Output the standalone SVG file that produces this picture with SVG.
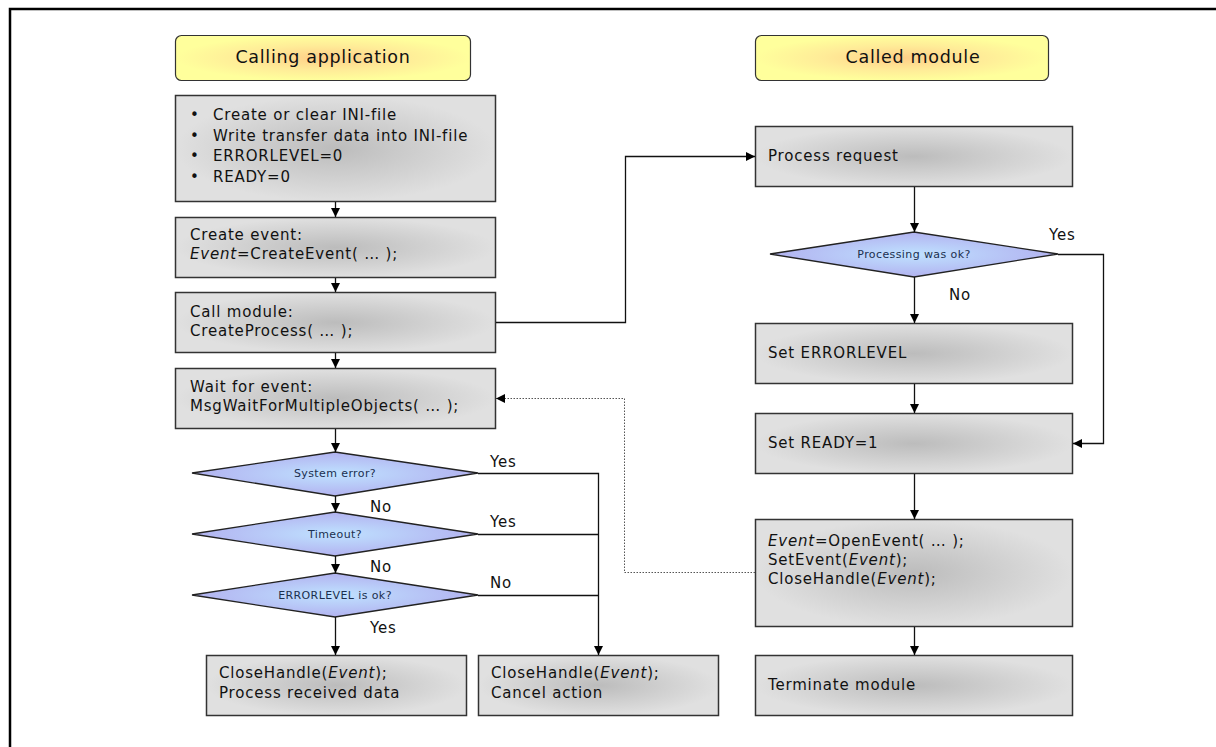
<svg xmlns="http://www.w3.org/2000/svg" width="1216" height="747" viewBox="0 0 1216 747">
  <style>
    text { font-family: "DejaVu Sans", "Liberation Sans", sans-serif; fill: #111; }
    .t { font-size: 15px; letter-spacing: 0.8px; }
    .h { font-size: 17.5px; letter-spacing: 0.7px; text-anchor: middle; }
    .d { font-size: 11px; letter-spacing: 0.4px; text-anchor: middle; fill: #1b2f4f; }
    .lbl { font-size: 15px; letter-spacing: 0.8px; }
    .box { fill: url(#gBox); stroke: #333; stroke-width: 1.5; }
    .head { fill: url(#gHead); stroke: #333; stroke-width: 1.2; }
    .dia { fill: url(#gDia); stroke: #222; stroke-width: 1.3; }
    .c { fill: none; stroke: #111; stroke-width: 1.3; }
    .dot { fill: none; stroke: #555; stroke-width: 1; stroke-dasharray: 1.5 1.5; }
  </style>
  <defs>
    <radialGradient id="gBox" cx="0.5" cy="0.5" r="0.5">
      <stop offset="0" stop-color="#bcbcbc"/>
      <stop offset="1" stop-color="#e0e0e0"/>
    </radialGradient>
    <radialGradient id="gHead" cx="0.5" cy="0.5" r="0.5">
      <stop offset="0" stop-color="#ffcf88"/>
      <stop offset="0.55" stop-color="#ffec98"/>
      <stop offset="1" stop-color="#ffff9c"/>
    </radialGradient>
    <radialGradient id="gDia" cx="0.5" cy="0.5" r="0.5">
      <stop offset="0" stop-color="#bfe2ff"/>
      <stop offset="1" stop-color="#b2b2f0"/>
    </radialGradient>
    <marker id="arr" viewBox="0 0 10 10" refX="10" refY="5" markerWidth="9" markerHeight="9" markerUnits="userSpaceOnUse" orient="auto">
      <path d="M0,0 L10,5 L0,10 z" fill="#000"/>
    </marker>
  </defs>

  <!-- page frame -->
  <path d="M10,747 L10,9 L1216,9" fill="none" stroke="#000" stroke-width="2.5"/>

  <!-- column headers -->
  <g id="head-calling">
    <rect class="head" x="175.5" y="35.5" width="295" height="45" rx="6"/>
    <text class="h" x="323" y="63">Calling application</text>
  </g>
  <g id="head-called">
    <rect class="head" x="755.5" y="35.5" width="293" height="45" rx="6"/>
    <text class="h" x="913" y="63">Called module</text>
  </g>

  <!-- calling application -->
  <g id="init">
    <rect class="box" x="175.5" y="95.5" width="320" height="106"/>
    <g class="t">
      <text x="190" y="120">•</text><text x="213" y="120">Create or clear INI-file</text>
      <text x="190" y="141">•</text><text x="213" y="141">Write transfer data into INI-file</text>
      <text x="190" y="161">•</text><text x="213" y="161">ERRORLEVEL=0</text>
      <text x="190" y="182">•</text><text x="213" y="182">READY=0</text>
    </g>
  </g>
  <g id="create-event">
    <rect class="box" x="175.5" y="217.5" width="320" height="60"/>
    <text class="t" x="190" y="240">Create event:</text>
    <text class="t" x="190" y="259"><tspan font-style="italic">Event</tspan>=CreateEvent( … );</text>
  </g>
  <g id="call-module">
    <rect class="box" x="175.5" y="292.5" width="320" height="60"/>
    <text class="t" x="190" y="317">Call module:</text>
    <text class="t" x="190" y="336">CreateProcess( … );</text>
  </g>
  <g id="wait-event">
    <rect class="box" x="175.5" y="368.5" width="320" height="60"/>
    <text class="t" x="190" y="392">Wait for event:</text>
    <text class="t" x="190" y="411">MsgWaitForMultipleObjects( … );</text>
  </g>
  <g id="dec-syserr">
    <polygon class="dia" points="192,473 335,452 478,473 335,496"/>
    <text class="d" x="335" y="477">System error?</text>
  </g>
  <g id="dec-timeout">
    <polygon class="dia" points="192,534 335,512 478,534 335,556"/>
    <text class="d" x="335" y="538">Timeout?</text>
  </g>
  <g id="dec-errorlevel">
    <polygon class="dia" points="192,595 335,573 478,595 335,617"/>
    <text class="d" x="335" y="599">ERRORLEVEL is ok?</text>
  </g>
  <g id="success">
    <rect class="box" x="206.5" y="655.5" width="260" height="60"/>
    <text class="t" x="219" y="678">CloseHandle(<tspan font-style="italic">Event</tspan>);</text>
    <text class="t" x="219" y="698">Process received data</text>
  </g>
  <g id="cancel">
    <rect class="box" x="478.5" y="655.5" width="240" height="60"/>
    <text class="t" x="491" y="678">CloseHandle(<tspan font-style="italic">Event</tspan>);</text>
    <text class="t" x="491" y="698">Cancel action</text>
  </g>

  <!-- called module -->
  <g id="process-request">
    <rect class="box" x="755.5" y="126.5" width="317" height="60"/>
    <text class="t" x="768" y="161">Process request</text>
  </g>
  <g id="dec-processing">
    <polygon class="dia" points="770,254 914,232 1058,254 914,277"/>
    <text class="d" x="914" y="258">Processing was ok?</text>
  </g>
  <g id="set-errorlevel">
    <rect class="box" x="755.5" y="323.5" width="317" height="60"/>
    <text class="t" x="768" y="358">Set ERRORLEVEL</text>
  </g>
  <g id="set-ready">
    <rect class="box" x="755.5" y="413.5" width="317" height="60"/>
    <text class="t" x="768" y="448">Set READY=1</text>
  </g>
  <g id="signal-event">
    <rect class="box" x="755.5" y="519.5" width="317" height="107"/>
    <text class="t" x="768" y="546"><tspan font-style="italic">Event</tspan>=OpenEvent( … );</text>
    <text class="t" x="768" y="565">SetEvent(<tspan font-style="italic">Event</tspan>);</text>
    <text class="t" x="768" y="584">CloseHandle(<tspan font-style="italic">Event</tspan>);</text>
  </g>
  <g id="terminate">
    <rect class="box" x="755.5" y="655.5" width="317" height="60"/>
    <text class="t" x="768" y="690">Terminate module</text>
  </g>

  <!-- connectors -->
  <g id="connectors">
    <path class="c" d="M335.5,202 V217" marker-end="url(#arr)"/>
    <path class="c" d="M335.5,278 V292" marker-end="url(#arr)"/>
    <path class="c" d="M335.5,353 V368" marker-end="url(#arr)"/>
    <path class="c" d="M335.5,429 V452" marker-end="url(#arr)"/>
    <path class="c" d="M335.5,496 V512" marker-end="url(#arr)"/>
    <path class="c" d="M335.5,556 V573" marker-end="url(#arr)"/>
    <path class="c" d="M335.5,617 V655" marker-end="url(#arr)"/>
    <path class="c" d="M478,473.5 H598.5 V655" marker-end="url(#arr)"/>
    <path class="c" d="M478,534.5 H598.5"/>
    <path class="c" d="M478,595.5 H598.5"/>
    <path class="c" d="M496,322.5 H625.5 V156.5 H755" marker-end="url(#arr)"/>
    <path class="c" d="M914.5,187 V232" marker-end="url(#arr)"/>
    <path class="c" d="M914.5,277 V323" marker-end="url(#arr)"/>
    <path class="c" d="M914.5,384 V413" marker-end="url(#arr)"/>
    <path class="c" d="M1058,254.5 H1103.5 V443.5 H1073" marker-end="url(#arr)"/>
    <path class="c" d="M914.5,474 V519" marker-end="url(#arr)"/>
    <path class="c" d="M914.5,627 V655" marker-end="url(#arr)"/>
    <path class="dot" d="M755,572.5 H624.5 V398.5 H496" marker-end="url(#arr)"/>
    <text class="lbl" x="490" y="467">Yes</text>
    <text class="lbl" x="370" y="512">No</text>
    <text class="lbl" x="490" y="527">Yes</text>
    <text class="lbl" x="370" y="572">No</text>
    <text class="lbl" x="490" y="588">No</text>
    <text class="lbl" x="370" y="633">Yes</text>
    <text class="lbl" x="1049" y="240">Yes</text>
    <text class="lbl" x="949" y="300">No</text>
  </g>
</svg>
